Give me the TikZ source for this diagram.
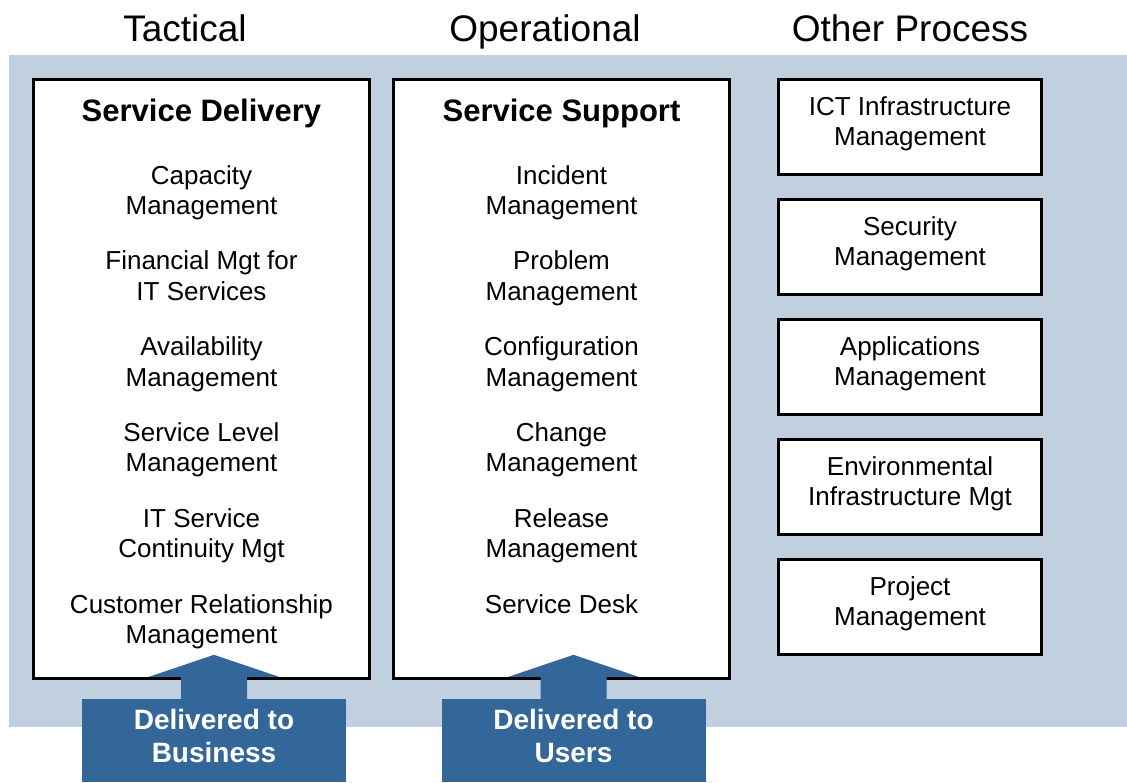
\documentclass[tikz,border=0pt]{standalone}
\usepackage{fontspec}
\setmainfont{Liberation Sans}
\usetikzlibrary{positioning}
\definecolor{panelblue}{RGB}{193,208,223}
\definecolor{tabblue}{RGB}{52,103,153}
\tikzset{every picture/.style={x=1pt,y=-1pt}}
\tikzset{
  heading/.style={font=\fontsize{37}{44}\selectfont, inner sep=0pt, anchor=base},
  column/.style={draw, fill=white, line width=3pt, outer sep=0pt,
    minimum width=336pt, minimum height=599pt},
  coltitle/.style={font=\fontsize{31}{36}\bfseries\selectfont, inner sep=0pt},
  item/.style={font=\fontsize{26}{30.5}\selectfont, align=center, inner sep=0pt},
  % extra depth under the last line lifts the text a little
  lift/.style={execute at end node={\rule[-#1]{0pt}{#1}}},
  process/.style={draw, fill=white, line width=3pt, outer sep=0pt, align=center,
    minimum width=263pt, minimum height=95pt, lift=11.5pt,
    font=\fontsize{26}{30.5}\selectfont},
  tab/.style={fill=tabblue, text=white, align=center, inner sep=0pt,
    minimum width=264pt, minimum height=83pt, lift=9pt,
    font=\fontsize{28}{33}\bfseries\selectfont}
}
% block arrow pointing up from a tab into the box above it
\newcommand{\tabarrow}[1]{%
  \fill[tabblue] ([xshift=-33pt]#1.north) -- ++(0,-22) -- ++(-32,0)
    -- ([yshift=44pt]#1.north) -- ++(65,22) -- ++(-32,0)
    -- ([xshift=33pt]#1.north) -- cycle;}

\begin{document}
\begin{tikzpicture}
  \useasboundingbox (0,0) rectangle (1127,782);
  \fill[panelblue] (9,55) rectangle (1127,727);

  % column headings
  \node[heading] (tactical) at (185,41) {Tactical};
  \node[heading] (operational) at (545,41) {Operational};
  \node[heading] (other) at (910,41) {Other Process};

  % service delivery
  \node[column] (sdbox) at (201.5,379) {};
  \node[coltitle, below=19.5pt of sdbox.north] (sdtitle) {Service Delivery};
  \node[item, below=66pt of sdtitle.north] (sd1) {Capacity\\Management};
  \node[item, below=85.8pt of sd1.north] (sd2) {Financial Mgt for\\IT Services};
  \node[item, below=85.8pt of sd2.north] (sd3) {Availability\\Management};
  \node[item, below=85.8pt of sd3.north] (sd4) {Service Level\\Management};
  \node[item, below=85.8pt of sd4.north] (sd5) {IT Service\\Continuity Mgt};
  \node[item, below=85.8pt of sd5.north] (sd6) {Customer Relationship\\Management};

  % service support
  \node[column] (ssbox) at (561.5,379) {};
  \node[coltitle, below=19.5pt of ssbox.north] (sstitle) {Service Support};
  \node[item, below=66pt of sstitle.north] (ss1) {Incident\\Management};
  \node[item, below=85.8pt of ss1.north] (ss2) {Problem\\Management};
  \node[item, below=85.8pt of ss2.north] (ss3) {Configuration\\Management};
  \node[item, below=85.8pt of ss3.north] (ss4) {Change\\Management};
  \node[item, below=85.8pt of ss4.north] (ss5) {Release\\Management};
  \node[item, below=85.8pt of ss5.north] (ss6) {Service Desk};

  % other processes
  \node[process] (ict) at (910,127) {ICT Infrastructure\\Management};
  \node[process, below=25pt of ict] (security) {Security\\Management};
  \node[process, below=25pt of security] (apps) {Applications\\Management};
  \node[process, below=25pt of apps] (envinfra) {Environmental\\Infrastructure Mgt};
  \node[process, below=25pt of envinfra] (project) {Project\\Management};

  % delivery tabs
  \node[tab] (business) at (214,740.5) {Delivered to\\Business};
  \node[tab] (users) at (573.5,740.5) {Delivered to\\Users};
  \tabarrow{business}
  \tabarrow{users}
\end{tikzpicture}
\end{document}
